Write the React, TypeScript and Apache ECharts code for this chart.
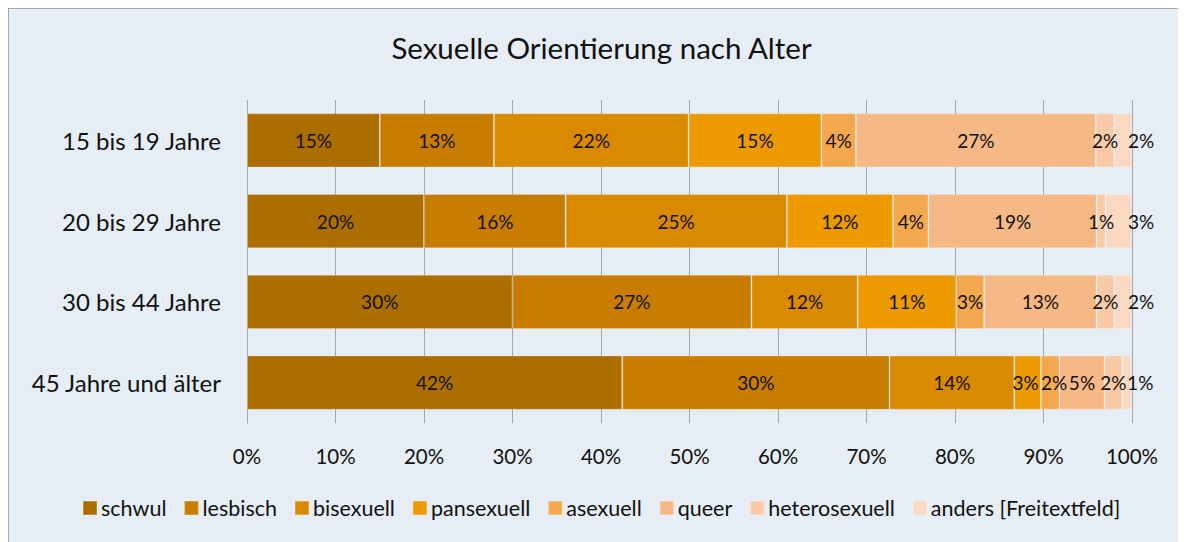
import React, { useEffect, useRef } from "react";
import * as echarts from "echarts";

const categories = ["15 bis 19 Jahre", "20 bis 29 Jahre", "30 bis 44 Jahre", "45 Jahre und älter"];
const seriesNames = ["schwul", "lesbisch", "bisexuell", "pansexuell", "asexuell", "queer", "heterosexuell", "anders [Freitextfeld]"];
const schwul = [15, 20, 30, 42.4];
const lesbisch = [12.9, 16, 27, 30.2];
const bisexuell = [22, 25, 12, 14.1];
const pansexuell = [15, 12, 11.1, 3];
const asexuell = [3.9, 4, 3.2, 2.1];
const queer = [27.1, 19, 12.7, 5.1];
const heterosexuell = [2.1, 1, 2, 2];
const anders = [2, 3, 2, 1];
const xTicks = ["0%", "10%", "20%", "30%", "40%", "50%", "60%", "70%", "80%", "90%", "100%"];

const seriesValues = [schwul, lesbisch, bisexuell, pansexuell, asexuell, queer, heterosexuell, anders];
const colors = ["#AD6E00", "#C87D00", "#DA8A00", "#EC9A00", "#F4A84E", "#F6B986", "#F8CAA6", "#FAD9C2"];

const FONT = "Lato";

// small label nudges for the crowded last row
const labelOffset = (si: number, ci: number): [number, number] => {
  if (ci === 3 && si === 3) return [-2, 0];
  if (ci === 3 && si === 4) return [4, 0];
  return [0, 0];
};

export default function App() {
  const ref = useRef<HTMLDivElement>(null);
  useEffect(() => {
    document.body.style.overflow = "hidden";
    const chart = echarts.init(ref.current!, undefined, { renderer: "svg" });
    chart.setOption({
      animation: false,
      backgroundColor: "#E6EDF4",
      color: colors,
      textStyle: { fontFamily: FONT },
      title: {
        text: "Sexuelle Orientierung nach Alter",
        left: 587.5,
        textAlign: "center",
        top: 18,
        textStyle: { fontFamily: FONT, fontSize: 29.5, fontWeight: "normal", color: "#111" },
      },
      legend: {
        data: seriesNames,
        top: 488,
        left: 73,
        padding: 0,
        icon: "rect",
        itemWidth: 14,
        itemHeight: 14,
        itemGap: 17,
        textStyle: { fontFamily: FONT, fontSize: 21.5, color: "#111", padding: [0, 0, 0, -1] },
      },
      grid: { left: 238, right: 74, top: 91, bottom: 139, containLabel: false },
      xAxis: {
        type: "value",
        min: 0,
        max: 100,
        interval: 10,
        axisLine: { show: false },
        axisTick: { show: false },
        splitLine: { show: true, lineStyle: { color: "#A6A6A6", width: 1 } },
        axisLabel: {
          margin: 22,
          fontFamily: FONT,
          fontSize: 20.5,
          color: "#111",
          formatter: (v: number) => xTicks[Math.round(v / 10)],
        },
      },
      yAxis: {
        type: "category",
        data: categories,
        inverse: true,
        axisLine: { show: true, lineStyle: { color: "#A6A6A6", width: 1 } },
        axisTick: { show: false },
        axisLabel: { margin: 26, fontFamily: FONT, fontSize: 24, color: "#111" },
      },
      series: seriesNames.map((name, i) => ({
        name,
        type: "bar",
        stack: "total",
        barCategoryGap: "33%",
        data: seriesValues[i].map((v, j) => ({ value: v, label: { offset: labelOffset(i, j) } })),
        itemStyle: { color: colors[i], borderColor: "rgba(255,255,255,0.22)", borderWidth: 1 },
        label: {
          show: true,
          position: i === seriesNames.length - 1 ? "right" : "inside",
          distance: -4,
          fontFamily: FONT,
          fontSize: 19,
          color: "#111",
          formatter: (p: any) => Math.round(p.value) + "%",
        },
      })),
    });
    return () => chart.dispose();
  }, []);
  return (
    <div
      ref={ref}
      style={{
        width: 1197,
        height: 553,
        borderLeft: "1px solid #A6A6A6",
        borderTop: "1px solid #A6A6A6",
      }}
    />
  );
}
